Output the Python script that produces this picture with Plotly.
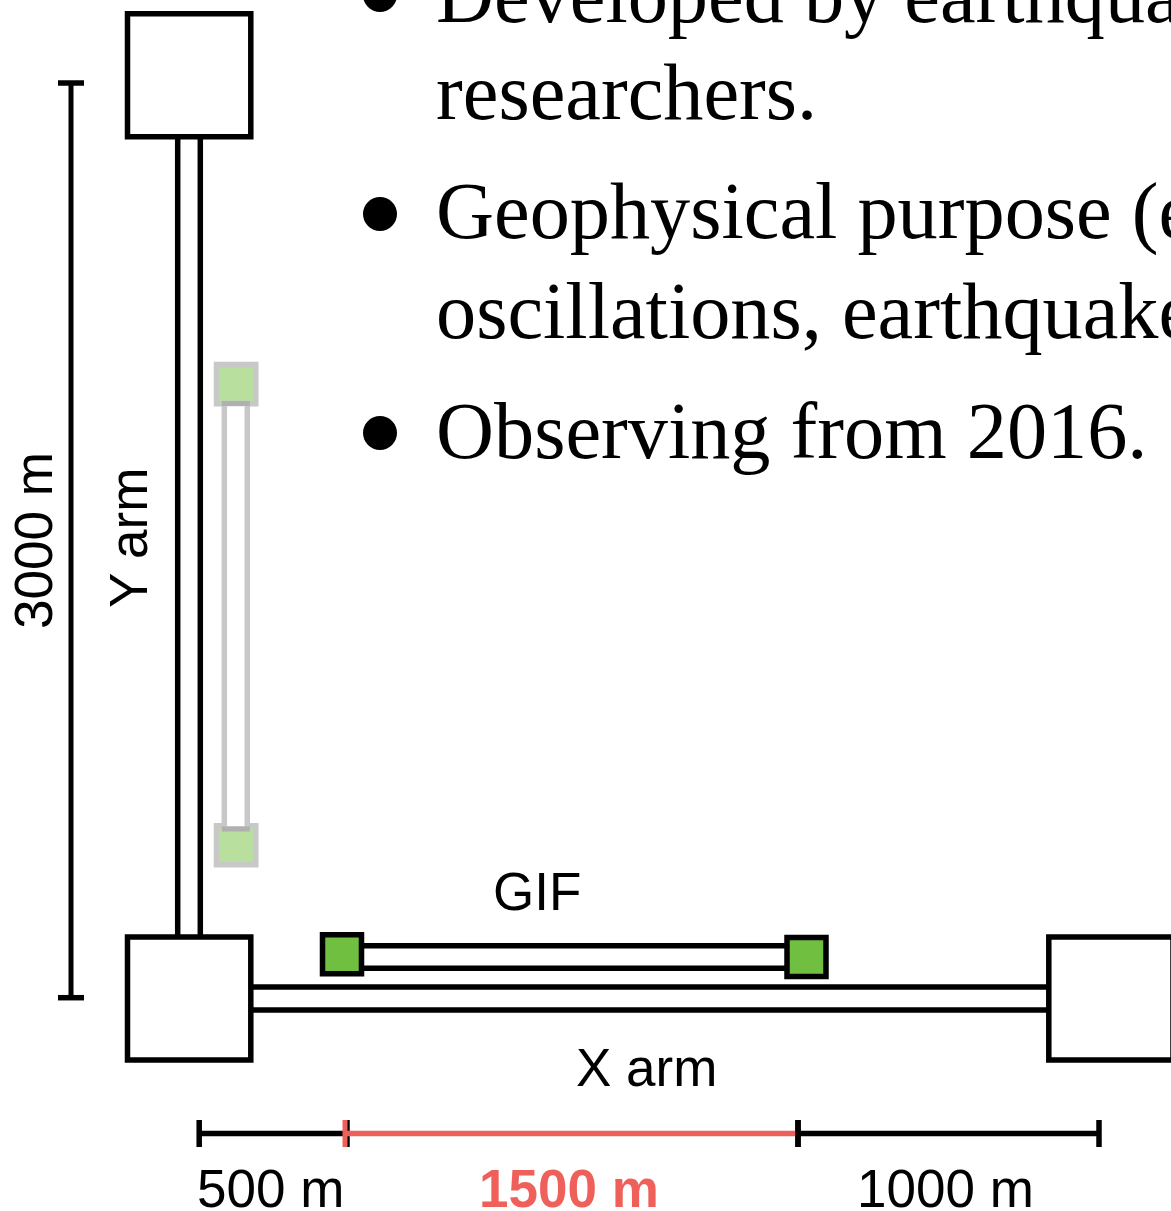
import plotly.graph_objects as go

W, H = 1171, 1211
BLACK = '#000000'
RED = '#F0605A'
GREEN = '#70BF41'
PALE_GREEN = '#B9DF9F'
PALE_GREY = '#C8C8C8'
OVERLAP_GREY = '#B0B0B0'
STROKE = 5.5

# end stations: x0, y0, x1, y1
box_x0 = [127.5, 127.5, 1048.8]
box_y0 = [13.8, 937.0, 937.0]
box_x1 = [250.8, 250.8, 1173.0]
box_y1 = [136.8, 1060.0, 1060.0]

# GIF end mirrors on the x arm
gif_x0 = [322.5, 787.0]
gif_y0 = [934.8, 937.5]
gif_x1 = [361.5, 826.0]
gif_y1 = [973.8, 976.5]

# faded GIF on the y arm
faded_x0 = [216.5, 216.5]
faded_y0 = [364.5, 825.8]
faded_x1 = [255.8, 255.8]
faded_y1 = [403.8, 864.8]
faded_arm_x = [224.3, 247.3]
faded_arm_y = [403.5, 829.0]

y_arm_x = [177.7, 200.3]
y_arm_y = [136.8, 937.0]
x_arm_y = [987.0, 1010.0]
x_arm_x = [250.8, 1048.8]
gif_arm_y = [945.7, 968.3]
gif_arm_x = [361.5, 787.0]

# dimension bars
dim_x = 71.0
dim_y = [83.0, 997.7]
bar_y = 1133.5
bar_ticks = [199.2, 347.0, 798.0, 1099.0]
red_tick = 345.0
red_span = [345.0, 798.0]

bullet_x = [380, 380, 380]
bullet_y = [-5, 214, 433]
bullet_size = 34

serif_lines = ['Developed by earthquake', 'researchers.', 'Geophysical purpose (e',
               'oscillations, earthquake', 'Observing from 2016.']
serif_y = [0, 91, 211, 310, 430]
serif_shift = [6, 0, 0, 0, 0]

labels = ['GIF', 'X arm', '500 m', '1500 m', '1000 m']
labels_x = [537, 646, 270, 569, 945]
labels_y = [891, 1067, 1188, 1188, 1188]
labels_color = [BLACK, BLACK, BLACK, RED, BLACK]
labels_bold = [False, False, False, True, False]
rot_labels = ['3000 m', 'Y arm']
rot_x = [33, 128]
rot_y = [541, 538]


def line(xs, ys, color=BLACK, width=STROKE):
    return go.Scatter(x=xs, y=ys, mode='lines', hoverinfo='skip', showlegend=False,
                      line=dict(color=color, width=width))


data = []
for x in y_arm_x:
    data.append(line([x, x], y_arm_y))
for y in x_arm_y:
    data.append(line(x_arm_x, [y, y]))
for y in gif_arm_y:
    data.append(line(gif_arm_x, [y, y]))

# dimension bars
data.append(line([dim_x, dim_x], dim_y, width=5))
for y in dim_y:
    data.append(line([dim_x - 13, dim_x + 13], [y, y], width=5.5))
data.append(line(bar_ticks[:2], [bar_y, bar_y], width=5.5))
data.append(line(bar_ticks[2:], [bar_y, bar_y], width=5.5))
for x in bar_ticks:
    data.append(line([x, x], [bar_y - 13.5, bar_y + 13.5], width=5.5))
data.append(line(red_span, [bar_y, bar_y], color=RED, width=5.5))
data.append(line([red_tick, red_tick], [bar_y - 13.5, bar_y + 13.5], color=RED, width=5))
data.append(line([bar_ticks[2], bar_ticks[2]], [bar_y - 13.5, bar_y + 13.5], width=5.5))

shapes = []
for i in range(3):
    shapes.append(dict(type='rect', xref='x', yref='y', x0=box_x0[i], y0=box_y0[i], x1=box_x1[i],
                       y1=box_y1[i], line=dict(color=BLACK, width=STROKE), fillcolor='white'))
for i in range(2):
    shapes.append(dict(type='rect', xref='x', yref='y', x0=gif_x0[i], y0=gif_y0[i], x1=gif_x1[i],
                       y1=gif_y1[i], line=dict(color=BLACK, width=STROKE), fillcolor=GREEN))
for i in range(2):
    shapes.append(dict(type='rect', xref='x', yref='y', x0=faded_x0[i], y0=faded_y0[i], x1=faded_x1[i],
                       y1=faded_y1[i], line=dict(color=PALE_GREY, width=STROKE), fillcolor=PALE_GREEN))
shapes.append(dict(type='rect', xref='x', yref='y', x0=faded_arm_x[0], y0=faded_arm_y[0], x1=faded_arm_x[1],
                   y1=faded_arm_y[1], line=dict(color=PALE_GREY, width=STROKE), fillcolor='white'))
for y in faded_arm_y:
    shapes.append(dict(type='line', xref='x', yref='y', x0=faded_arm_x[0] - 2.5, x1=faded_arm_x[1] + 2.5,
                       y0=y, y1=y, line=dict(color=OVERLAP_GREY, width=5)))
# bullets
for x, y in zip(bullet_x, bullet_y):
    shapes.append(dict(type='circle', xref='x', yref='y', x0=x - bullet_size / 2, x1=x + bullet_size / 2,
                       y0=y - bullet_size / 2, y1=y + bullet_size / 2, line=dict(width=0), fillcolor=BLACK))

annotations = []
for text, y, s in zip(serif_lines, serif_y, serif_shift):
    annotations.append(dict(text=text, x=434, y=y, yshift=s, xref='x', yref='y', xanchor='left',
                            yanchor='middle', showarrow=False,
                            font=dict(family='Liberation Serif', size=80.3, color=BLACK)))
for i, text in enumerate(labels):
    annotations.append(dict(text='<b>%s</b>' % text if labels_bold[i] else text, x=labels_x[i], y=labels_y[i],
                            xref='x', yref='y', xanchor='center', yanchor='middle', showarrow=False,
                            font=dict(family='Liberation Sans', size=53, color=labels_color[i])))
for i, text in enumerate(rot_labels):
    annotations.append(dict(text=text, x=rot_x[i], y=rot_y[i], xref='x', yref='y', textangle=-90,
                            xanchor='center', yanchor='middle', showarrow=False,
                            font=dict(family='Liberation Sans', size=53, color=BLACK)))

layout = go.Layout(width=W, height=H, margin=dict(l=0, r=0, t=0, b=0),
                   paper_bgcolor='white', plot_bgcolor='white',
                   xaxis=dict(range=[0, W], visible=False),
                   yaxis=dict(range=[H, 0], visible=False),
                   shapes=shapes, annotations=annotations)
fig = go.Figure(data=data, layout=layout)
fig.write_html('out.html', config=dict(displayModeBar=False),
               post_script="document.body.style.margin='0';")
